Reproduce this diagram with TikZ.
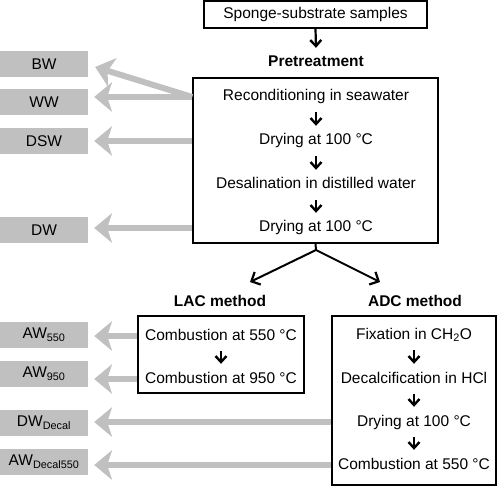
\documentclass[tikz,border=0pt]{standalone}
\usepackage{fontspec}
\setmainfont{Liberation Sans}
\usetikzlibrary{arrows.meta,calc}
\definecolor{boxgrey}{RGB}{192,192,192}
\begin{document}
\begin{tikzpicture}[x=1pt,y=-1pt,
  every node/.style={font=\fontsize{15.5}{18}\selectfont},
  txt/.style={inner xsep=2pt, inner ysep=7.5pt, text height=11.5pt, text depth=3.5pt},
  lab/.style={txt, font=\fontsize{15.5}{18}\selectfont\bfseries},
  frame/.style={draw, line width=1.6pt, inner sep=0pt},
  gbox/.style={fill=boxgrey, inner sep=0pt, minimum width=88pt, minimum height=26pt},
  blk/.style={line width=2.2pt, -{Straight Barb[length=6pt,width=11pt,line width=2.4pt]}},
  garrow/.style={draw=boxgrey, line width=6pt, -{Stealth[length=18pt,width=30pt,inset=5pt,line width=0pt,fill=boxgrey]}}
]
\useasboundingbox (0,0) rectangle (500,486);

% top
\node[frame, minimum width=223pt, minimum height=27pt] (top) at (315.5,14.5) {Sponge-substrate samples};
\node[lab] (ptlab) at (316,63) {Pretreatment};
\draw[blk] (top.south) -- (ptlab.north);

% pretreatment box
\node[frame, minimum width=245pt, minimum height=165pt] (pre) at (315.5,160.5) {};
\node[txt] (rec) at (316,97) {Reconditioning in seawater};
\node[txt] (d1) at (316,141) {Drying at 100 °C};
\node[txt] (des) at (316,185) {Desalination in distilled water};
\node[txt] (d2) at (316,228) {Drying at 100 °C};
\draw[blk] (rec) -- (d1);
\draw[blk] (d1) -- (des);
\draw[blk] (des) -- (d2);

% branch
\coordinate (br) at (316,250);
\coordinate (lacT) at (250,282);
\coordinate (adcT) at (380,282);
\draw[line width=2pt] (pre.south) -- (br);
\draw[line width=2pt, -{Straight Barb[length=7pt,width=14pt,line width=2.2pt]}] (br) -- (lacT);
\draw[line width=2pt, -{Straight Barb[length=7pt,width=14pt,line width=2.2pt]}] (br) -- (adcT);

% LAC
\node[lab] (laclab) at (220,302) {LAC method};
\node[frame, minimum width=166pt, minimum height=77pt] (lac) at (221,354.5) {};
\node[txt] (c550) at (221,336) {Combustion at 550 °C};
\node[txt] (c950) at (221,379) {Combustion at 950 °C};
\draw[blk] (c550) -- (c950);

% ADC
\node[lab] (adclab) at (415,302) {ADC method};
\node[frame, minimum width=164pt, minimum height=169pt] (adc) at (414,400.5) {};
\node[txt] (fix) at (414,335) {Fixation in CH\textsubscript{2}O};
\node[txt] (dec) at (414,379) {Decalcification in HCl};
\node[txt] (d3) at (414,422) {Drying at 100 °C};
\node[txt] (c3) at (414,465) {Combustion at 550 °C};
\draw[blk] (fix) -- (dec);
\draw[blk] (dec) -- (d3);
\draw[blk] (d3) -- (c3);

% grey boxes
\node[gbox] (bw) at (44,64) {BW};
\node[gbox] (ww) at (44,102) {WW};
\node[gbox] (dsw) at (44,141) {DSW};
\node[gbox] (dw) at (44,230) {DW};
\node[gbox] (aw5) at (44,334.5) {AW\textsubscript{550}};
\node[gbox] (aw9) at (44,373.5) {AW\textsubscript{950}};
\node[gbox] (dwd) at (44,423) {DW\textsubscript{Decal}};
\node[gbox] (awd) at (44,462) {AW\textsubscript{Decal550}};

\coordinate (bwT) at ([xshift=7pt,yshift=-3pt]bw.east);
\coordinate (gT) at ([xshift=6pt]ww.east);

\draw[garrow] (rec -| pre.west) -- (bwT);
\draw[garrow] (rec -| pre.west) -- (gT |- rec);
\draw[garrow] (d1 -| pre.west) -- (gT |- d1);
\draw[garrow] (d2 -| pre.west) -- (gT |- d2);
\draw[garrow] (c550 -| lac.west) -- (gT |- c550);
\draw[garrow] (c950 -| lac.west) -- (gT |- c950);
\draw[garrow] (d3 -| adc.west) -- (gT |- d3);
\draw[garrow] (c3 -| adc.west) -- (gT |- c3);
\end{tikzpicture}
\end{document}
